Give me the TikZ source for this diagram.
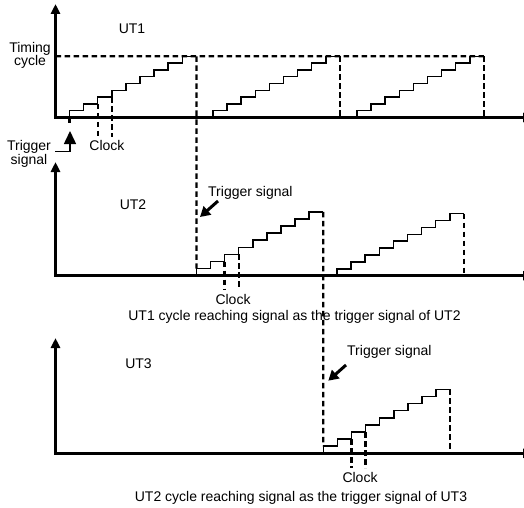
\documentclass[tikz,border=0pt]{standalone}
\usepackage{fontspec}
\setmainfont{Liberation Sans}
\usepackage{tikz}
\usetikzlibrary{arrows.meta}

\begin{document}
\begin{tikzpicture}[
  x=1pt, y=1pt,
  every node/.style={font=\fontsize{14}{13.5}\selectfont, inner sep=0pt},
  axisline/.style={line width=3pt, -{Triangle[length=10pt,width=9pt]}},
  stairline/.style={line width=1.5pt},
  cycdash/.style={line width=2.3pt, dash pattern=on 5.5pt off 3.5pt},
  trigarrow/.style={line width=3pt, -{Triangle[length=10pt,width=11pt]}},
]
\useasboundingbox (0,0) rectangle (524,507);

\def\sw{14.1}  % step width
\def\ax{55.5}  % y-axis position

%% Staircases: name / start x / baseline / step height
%% a,b,c = UT1   d,e = UT2   f = UT3
\foreach \n/\xs/\yb/\sh in {
  a/69.5/389.5/6.8,
  b/213/389.5/6.8,
  c/357/389.5/6.8,
  d/196.4/231.3/7.1,
  e/337/231.3/6.9,
  f/323.3/53.7/7.1%
}{
  \coordinate (\n-first) at (\xs, \yb+\sh);
  \coordinate (\n-clkA) at (\xs+2*\sw, \yb+2*\sh);
  \coordinate (\n-clkB) at (\xs+3*\sw, \yb+3*\sh);
  \coordinate (\n-top) at (\xs+9*\sw, \yb+9*\sh);
  \coordinate (\n-foot) at (\xs+9*\sw, \yb);
  \draw[stairline] (\xs,\yb) \foreach \k in {1,...,9}{ -- ++(0,\sh) -- ++(\sw,0) };
}

%% Timing cycle level and cycle ends
\coordinate (cyc0) at (\ax, 450.7);
\draw[cycdash] (cyc0) -- (c-top);
\draw[cycdash] (a-top) -- (d-first);
\draw[cycdash] (d-top) -- (f-first);
\foreach \n in {b,c,e,f}{
  \draw[cycdash] (\n-top) -- (\n-foot);
}

%% Clock marks
\foreach \n/\yc in {a/370, d/217, f/39}{
  \draw[cycdash] (\n-clkA) -- (\n-clkA |- 0,\yc);
  \draw[cycdash] (\n-clkB) -- (\n-clkB |- 0,\yc);
}
\node[anchor=base] (clk1) at (107,357) {Clock};
\node[anchor=base] (clk2) at (233,203) {Clock};
\node[anchor=base] (clk3) at (360,24.7) {Clock};

%% Axes
\foreach \i/\yb/\ytip in {1/389.5/503, 2/231.3/345, 3/53.7/169}{
  \coordinate (o\i) at (\ax,\yb);
  \draw[axisline] (o\i) -- (\ax,\ytip);
  \draw[axisline] ([xshift=-1.5pt]o\i) -- (533,\yb);
}

%% Labels
\node[anchor=base] (ut1) at (132,473.7) {UT1};
\node[anchor=base] (ut2) at (133,297.7) {UT2};
\node[anchor=base] (ut3) at (138.5,138.7) {UT3};
\node[align=center] (timing) at (30,451.5) {Timing\\cycle};
\node[align=center] (trig1) at (29,353) {Trigger\\signal};
\node[anchor=base west] (trig2) at (208,310.3) {Trigger signal};
\node[anchor=base west] (trig3) at (347,151.3) {Trigger signal};
\node[anchor=base] (cap2) at (294.5,186.5) {UT1 cycle reaching signal as the trigger signal of UT2};
\node[anchor=base] (cap3) at (301,6) {UT2 cycle reaching signal as the trigger signal of UT3};

%% Trigger arrows
\draw[cycdash] (a-first |- o1) -- (69.5,381);
\coordinate (t1foot) at (55,355.5);
\coordinate (t1tip) at (70,376);
\draw[line width=1.5pt, -{Triangle[length=13pt,width=12pt]}] (t1foot) -| (t1tip);
\coordinate (t2tail) at (218,306);
\coordinate (t2tip) at (200,290);
\draw[trigarrow] (t2tail) -- (t2tip);
\coordinate (t3tail) at (346,142);
\coordinate (t3tip) at (328.3,126.3);
\draw[trigarrow] (t3tail) -- (t3tip);

\end{tikzpicture}
\end{document}
